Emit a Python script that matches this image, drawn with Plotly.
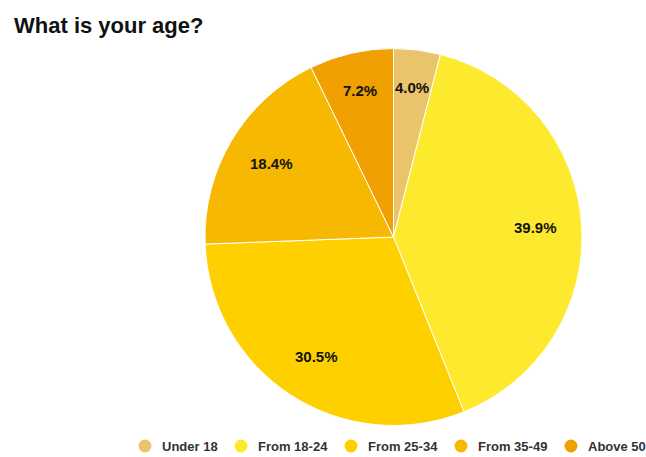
import math
import plotly.graph_objects as go

categories = ["Under 18", "From 18-24", "From 25-34", "From 35-49", "Above 50"]
shares = [4.0, 39.9, 30.5, 18.4, 7.2]
colors = ["#E9C46A", "#FDEA2E", "#FFD000", "#F6B800", "#F0A000"]

W, H = 646, 457
cx, cy, R = 393.5, 237, 188.5

fig = go.Figure(go.Pie(
    labels=categories,
    values=shares,
    sort=False,
    direction="clockwise",
    rotation=0,
    marker=dict(colors=colors, line=dict(color="white", width=1)),
    textinfo="none",
    hoverinfo="label+percent",
    showlegend=False,
    domain=dict(x=[(cx - R) / W, (cx + R) / W], y=[(H - cy - R) / H, (H - cy + R) / H]),
))

# percentage labels placed along each slice's mid-angle (clockwise from 12 o'clock)
annotations = []
total = sum(shares)
acc = 0.0
for v in shares:
    mid = (acc + v / 2) / total * 2 * math.pi
    acc += v
    frac = v / total
    rl = R * (0.80 if frac < 0.1 else 0.755)
    px = cx + rl * math.sin(mid)
    py = cy - rl * math.cos(mid)
    annotations.append(dict(
        x=px / W, y=1 - py / H, xref="paper", yref="paper",
        text=f"<b>{v:.1f}%</b>", showarrow=False, xanchor="center", yanchor="middle",
        font=dict(family="Liberation Sans", size=15, color="#111111"),
    ))

# horizontal legend along the bottom edge
legend_marker_x = [145, 241, 351, 461, 571]
legend_y = 446
shapes = []
for name, col, mx in zip(categories, colors, legend_marker_x):
    shapes.append(dict(
        type="circle", xref="paper", yref="paper",
        xsizemode="pixel", ysizemode="pixel",
        xanchor=mx / W, yanchor=1 - legend_y / H,
        x0=-6.5, x1=6.5, y0=-6.5, y1=6.5,
        fillcolor=col, line=dict(width=0),
    ))
    annotations.append(dict(
        x=(mx + 15) / W, y=1 - legend_y / H, xref="paper", yref="paper",
        text=f"<b>{name}</b>", showarrow=False, xanchor="left", yanchor="middle",
        font=dict(family="Liberation Sans", size=13, color="#333333"),
    ))

fig.update_layout(
    width=W, height=H,
    margin=dict(l=0, r=0, t=0, b=0),
    paper_bgcolor="white",
    title=dict(text="<b>What is your age?</b>", x=14 / W, xanchor="left", y=1 - 25 / H, yanchor="middle",
               font=dict(family="Liberation Sans", size=22, color="#111111")),
    annotations=annotations,
    shapes=shapes,
)

fig.write_html("out.html")
